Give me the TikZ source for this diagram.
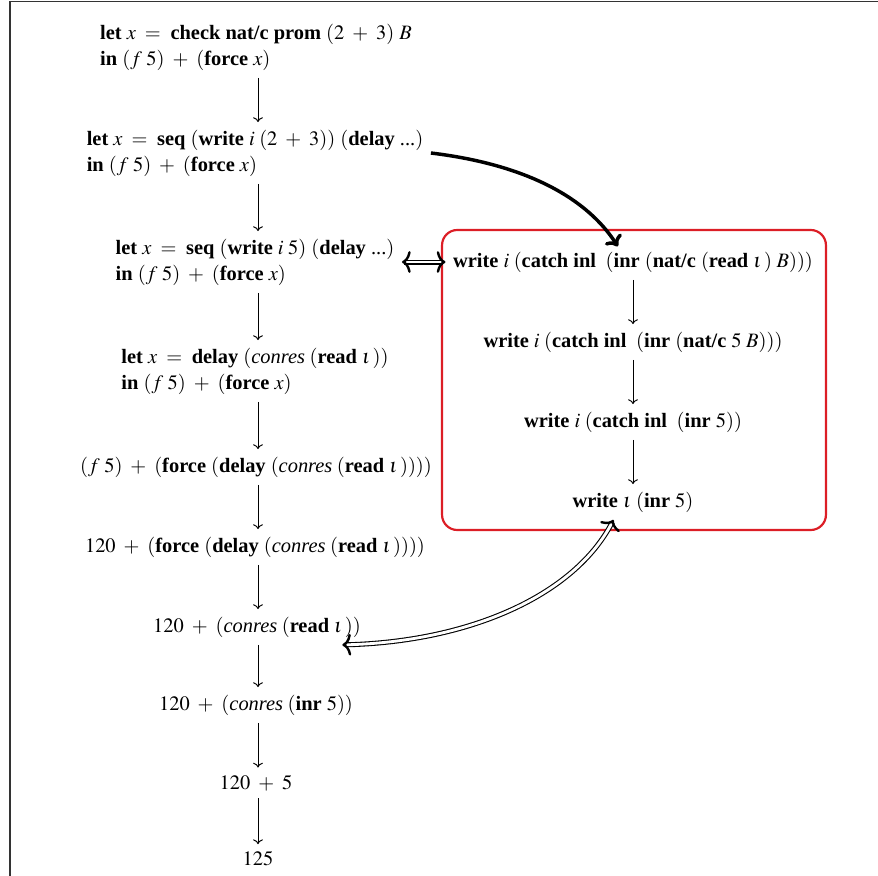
\documentclass[tikz,border=0pt]{standalone}
\usepackage{mathptmx}
\usepackage{fontspec}
\setmainfont{Liberation Serif}
\usetikzlibrary{arrows.meta}
\newcommand{\kwd}[1]{\textbf{#1}}
\newcommand{\pl}{\mskip7mu{+}\mskip7mu}
\tikzset{
  term/.style={align=left, font=\fontsize{9.4}{12}\selectfont},
  redbox/.style={draw={rgb,255:red,220;green,30;blue,38}, line width=1pt, rounded corners=7pt},
  stepar/.style={-{To[length=2.2pt,width=4.5pt]}, line width=0.45pt},
  bigar/.style={-{To[length=4.5pt,width=9pt]}, line width=1.6pt},
  dblar/.style={{To[length=4pt,width=10pt,line width=1.1pt]}-{To[length=4pt,width=10pt,line width=1.1pt]}, double, double distance=1.3pt, line width=0.5pt},
}
\begin{document}
\begin{tikzpicture}[x=0.46pt,y=-0.46pt]
\useasboundingbox (0,0) rectangle (878,876);
\draw[line width=0.9pt, black!80] (10,876) -- (10,1.5) -- (878,1.5);

% left column
\node[term] (n1) at (256,47) {\kwd{let} $x \;=\;$ \kwd{check nat/c prom} $(2 \pl 3)$ $B$\\ \kwd{in} $(f\;5) \pl ($\kwd{force} $x)$};
\node[term] (n2) at (255,153) {\kwd{let} $x \;=\;$ \kwd{seq} $($\kwd{write} $i\;(2 \pl 3))$ $($\kwd{delay} ...$)$\\ \kwd{in} $(f\;5) \pl ($\kwd{force} $x)$};
\node[term] (n3) at (255,262) {\kwd{let} $x \;=\;$ \kwd{seq} $($\kwd{write} $i\;5)$ $($\kwd{delay} ...$)$\\ \kwd{in} $(f\;5) \pl ($\kwd{force} $x)$};
\node[term] (n4) at (255,371) {\kwd{let} $x \;=\;$ \kwd{delay} $(\textit{conres}\;($\kwd{read} $\iota\,))$\\ \kwd{in} $(f\;5) \pl ($\kwd{force} $x)$};
\node[term] (n5) at (256,467) {$(f\;5) \pl ($\kwd{force} $($\kwd{delay} $(\textit{conres}\;($\kwd{read} $\iota\,))))$};
\node[term] (n6) at (255,547) {$120 \pl ($\kwd{force} $($\kwd{delay} $(\textit{conres}\;($\kwd{read} $\iota\,))))$};
\node[term] (n7) at (257,627) {$120 \pl (\textit{conres}\;($\kwd{read} $\iota\,))$};
\node[term] (n8) at (256,705) {$120 \pl (\textit{conres}\;($\kwd{inr} $5))$};
\node[term] (n9) at (256,783) {$120 \pl 5$};
\node[term] (n10) at (258,859) {$125$};

\foreach \a/\b in {n1/n2,n2/n3,n3/n4,n4/n5,n5/n6,n6/n7,n7/n8,n8/n9,n9/n10}
  \draw[stepar] (\a.south -| 258,0) -- (\b.north -| 258,0);

% right box
\node[redbox, minimum width=176.6pt, minimum height=138pt] (box) at (634,380) {};
\node[term] (r1) at (633,262) {\kwd{write} $i\;($\kwd{catch inl} $\;($\kwd{inr} $($\kwd{nat/c} $($\kwd{read} $\iota\,)\;B)))$};
\node[term] (r2) at (633,342) {\kwd{write} $i\;($\kwd{catch inl} $\;($\kwd{inr} $($\kwd{nat/c} $5\;B)))$};
\node[term] (r3) at (633,422) {\kwd{write} $i\;($\kwd{catch inl} $\;($\kwd{inr} $5))$};
\node[term] (r4) at (633,502) {\kwd{write} $\iota\;($\kwd{inr} $5)$};
\foreach \a/\b in {r1/r2,r2/r3,r3/r4}
  \draw[stepar] (\a.south) -- (\b.north);

% cross connectors
\draw[bigar] (n2.east) .. controls (530,165) and (588,200) .. ([xshift=-7pt,yshift=-1pt]r1.north);
\draw[dblar] (n3.east) -- (r1.west);
\draw[dblar] ([xshift=-12pt]n7.south east) .. controls (470,642) and (575,595) .. ([xshift=-9pt]r4.south);
\end{tikzpicture}
\end{document}
